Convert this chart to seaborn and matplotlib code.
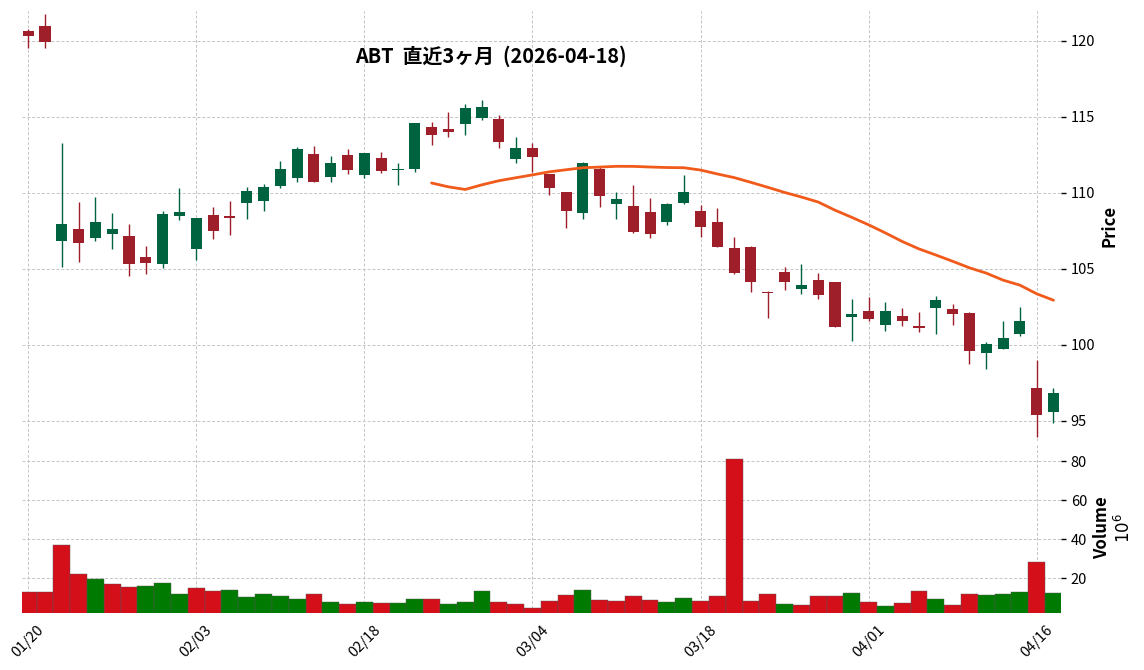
import numpy as np
import pandas as pd
import seaborn as sns
import matplotlib
matplotlib.use("Agg")
import matplotlib.pyplot as plt

sns.set_style("white")
plt.rcParams['font.family'] = ['Noto Sans CJK JP', 'DejaVu Sans']
plt.rcParams.update({"text.color": "black", "axes.labelcolor": "black",
                     "xtick.color": "black", "ytick.color": "black"})

dates = ["01/20", "01/21", "01/22", "01/23", "01/26", "01/27", "01/28", "01/29", "01/30",
         "02/02", "02/03", "02/04", "02/05", "02/06", "02/09", "02/10", "02/11", "02/12", "02/13",
         "02/17", "02/18", "02/19", "02/20", "02/23", "02/24", "02/25", "02/26", "02/27",
         "03/02", "03/03", "03/04", "03/05", "03/06", "03/09", "03/10", "03/11", "03/12", "03/13",
         "03/16", "03/17", "03/18", "03/19", "03/20", "03/23", "03/24", "03/25", "03/26", "03/27",
         "03/30", "03/31", "04/01", "04/02", "04/06", "04/07", "04/08", "04/09", "04/10",
         "04/13", "04/14", "04/15", "04/16", "04/17"]

opens = [120.66, 120.99, 106.86, 107.63, 107.04, 107.32, 107.17, 105.79, 105.35, 108.51,
         106.34, 108.55, 108.47, 109.36, 109.47, 110.48, 111.01, 112.57, 111.07, 112.50,
         111.20, 112.30, 111.50, 111.60, 114.34, 114.21, 114.56, 114.95, 114.87, 112.26,
         112.96, 111.25, 110.07, 108.70, 111.58, 109.30, 109.14, 108.75, 108.11, 109.34,
         108.82, 108.09, 106.38, 106.45, 103.49, 104.80, 103.70, 104.28, 104.14, 101.86,
         102.24, 101.34, 101.91, 101.22, 102.45, 102.37, 102.11, 99.49, 99.76, 100.74,
         97.17, 95.61]
highs = [120.77, 121.76, 113.27, 109.39, 109.72, 108.66, 107.94, 106.49, 108.80, 110.31,
         108.36, 109.06, 109.45, 110.38, 110.59, 112.09, 113.03, 113.09, 112.43, 112.88,
         112.63, 112.70, 111.95, 114.61, 114.65, 115.31, 115.84, 116.10, 115.11, 113.70,
         113.27, 111.25, 110.07, 112.04, 111.69, 110.05, 110.51, 109.67, 109.36, 111.16,
         109.23, 109.03, 107.09, 106.51, 103.57, 105.15, 105.31, 104.76, 104.14, 103.01,
         103.14, 102.81, 102.41, 102.19, 103.20, 102.68, 102.15, 100.22, 101.56, 102.50,
         99.01, 97.15]
lows = [119.52, 119.56, 105.11, 105.44, 106.86, 106.30, 104.56, 104.65, 105.05, 108.20,
        105.59, 106.95, 107.22, 108.27, 108.80, 110.31, 110.70, 110.72, 110.70, 111.23,
        110.97, 111.30, 110.51, 111.38, 113.14, 113.66, 113.82, 114.78, 112.94, 111.95,
        111.36, 109.85, 107.68, 108.27, 109.10, 108.27, 107.39, 107.02, 107.88, 109.26,
        107.09, 106.45, 104.67, 103.47, 101.76, 103.60, 103.34, 103.01, 101.17, 100.26,
        101.56, 100.90, 101.27, 100.86, 100.70, 101.30, 98.73, 98.40, 99.76, 100.61,
        93.97, 94.85]
closes = [120.35, 119.93, 107.96, 106.73, 108.09, 107.63, 105.35, 105.41, 108.62, 108.75,
          108.36, 107.52, 108.36, 110.13, 110.39, 111.58, 112.89, 110.72, 111.97, 111.53,
          112.63, 111.47, 111.53, 114.61, 113.84, 114.03, 115.59, 115.66, 113.38, 112.96,
          112.39, 110.35, 108.84, 111.97, 109.82, 109.61, 107.43, 107.30, 109.28, 110.07,
          107.78, 106.45, 104.74, 104.14, 103.40, 104.16, 103.95, 103.29, 101.21, 102.06,
          101.73, 102.24, 101.60, 101.14, 102.96, 102.06, 99.63, 100.07, 100.46, 101.58,
          95.39, 96.84]
# volume in millions of shares
volumes = [12.9, 12.9, 37.3, 22.0, 19.5, 16.9, 15.4, 15.9, 17.4, 11.8, 14.9, 13.4, 13.9,
           10.3, 11.8, 10.8, 9.3, 11.8, 7.8, 6.7, 7.8, 7.3, 7.3, 9.3, 9.3, 6.7, 7.8, 13.4,
           7.8, 6.7, 4.7, 8.3, 11.3, 13.9, 8.8, 8.3, 10.8, 8.8, 7.8, 9.8, 8.3, 10.8, 81.2,
           8.3, 11.8, 6.7, 6.2, 10.8, 10.8, 12.3, 7.8, 5.7, 7.3, 13.4, 9.3, 6.2, 11.8, 11.3,
           11.8, 12.9, 28.2, 12.3]

df = pd.DataFrame({"date": dates, "open": opens, "high": highs, "low": lows,
                   "close": closes, "volume": volumes})
df["idx"] = np.arange(len(df))
df["up"] = df["close"] >= df["open"]
prev = df["close"].shift(1).fillna(df["open"])
df["vdir"] = np.where(df["close"] >= prev, "up", "down")
df["ma25"] = df["close"].rolling(25).mean()

up_c, down_c = "#006340", "#9e1f29"
vol_pal = {"up": "#007a00", "down": "#d40f1a"}

fig = plt.figure(figsize=(11.44, 6.7), dpi=100)
ax = fig.add_axes([0.0192, 0.3418, 0.9083, 0.6418])
axv = fig.add_axes([0.0192, 0.0851, 0.9083, 0.2537], sharex=ax)

# candles
colors = np.where(df["up"], up_c, down_c)
ax.vlines(df["idx"], df["low"], df["high"], colors=colors, linewidth=1.0, zorder=3)
body = (df["close"] - df["open"]).abs().clip(lower=0.07)
bottom = df[["open", "close"]].min(axis=1)
ax.bar(df["idx"], body, bottom=bottom, width=0.66, color=colors, linewidth=0, zorder=4)

sns.lineplot(data=df, x="idx", y="ma25", ax=ax, color="#f05a1a", linewidth=2, zorder=5)

ax.set_ylim(93.68, 121.97)
ax.set_yticks([95, 100, 105, 110, 115, 120])
ax.yaxis.tick_right()
ax.yaxis.set_label_position("right")
ax.set_ylabel("Price", fontsize=12, fontweight="semibold", labelpad=4)
ax.set_xlabel("")
ax.tick_params(axis="x", which="both", bottom=False, labelbottom=False)
ax.tick_params(axis="y", labelsize=10.5, length=3.5, width=1)

# volume
sns.barplot(data=df, x="idx", y="volume", hue="vdir", palette=vol_pal, dodge=False,
            width=1.0, ax=axv, legend=False, native_scale=True,
            edgecolor="#555555", linewidth=0.3, saturation=1)
axv.set_ylim(2.3, 89.3)
axv.set_yticks([20, 40, 60, 80])
axv.yaxis.tick_right()
axv.yaxis.set_label_position("right")
axv.set_ylabel("Volume\n$10^{6}$", fontsize=12, fontweight="semibold", labelpad=4)
axv.set_xlabel("")
axv.tick_params(axis="y", labelsize=10.5, length=3.5, width=1)

tick_pos = list(range(0, len(dates), 10))
axv.set_xticks(tick_pos)
axv.set_xticklabels([dates[i] for i in tick_pos], rotation=45, ha="center", fontsize=10.5)
axv.tick_params(axis="x", length=3.5, width=1)
axv.set_xlim(-0.37, 61.45)

for a in (ax, axv):
    a.grid(True, linestyle=(0, (3, 2)), color="#c4c4c4", linewidth=0.7)
    a.set_axisbelow(True)
    for s in a.spines.values():
        s.set_visible(False)

fig.text(0.429, 0.916, "ABT  直近3ヶ月  (2026-04-18)", ha="center", va="center",
         fontsize=14.3, fontweight="bold")

fig.savefig("out.png", dpi=100)
